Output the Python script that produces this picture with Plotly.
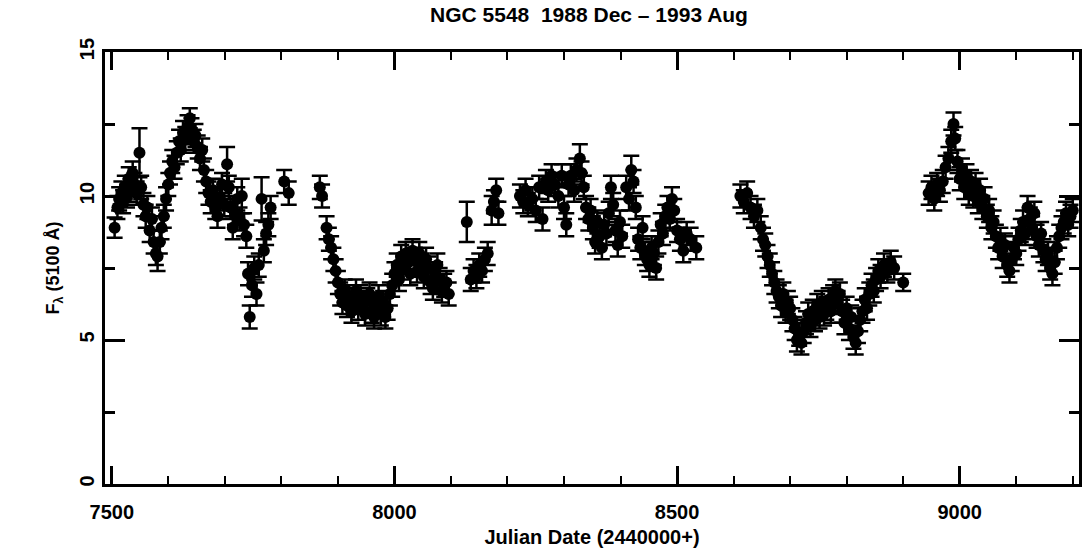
import plotly.graph_objects as go

# NGC 5548 optical continuum light curve, F_lambda(5100 A), 1988 Dec - 1993 Aug
jd = [
    # 1988-89 season
    7505, 7510, 7513, 7517, 7520, 7523, 7527, 7530, 7533, 7537, 7540, 7544, 7549, 7552, 7556,
    7560, 7563, 7567, 7571, 7574, 7578, 7581, 7585, 7588, 7592, 7596, 7600, 7603, 7607, 7611,
    7615, 7619, 7622, 7626, 7630, 7634, 7638, 7641, 7645, 7648, 7652, 7656, 7660, 7663, 7667,
    7671, 7675, 7679, 7683, 7687, 7691, 7695, 7699, 7704, 7707, 7710, 7714, 7718, 7722, 7726,
    7730, 7734, 7738, 7741, 7744, 7748, 7752, 7756, 7760, 7765, 7769, 7773, 7777, 7781, 7805,
    7813,
    # 1989-90 season
    7868, 7872, 7880, 7884, 7888, 7892, 7896, 7900, 7904, 7908, 7912, 7916, 7920, 7924, 7928,
    7932, 7936, 7940, 7944, 7948, 7952, 7956, 7960, 7964, 7968, 7972, 7976, 7980, 7984, 7988,
    7992, 7996, 8000, 8004, 8008, 8012, 8016, 8020, 8024, 8028, 8032, 8036, 8040, 8044, 8048,
    8052, 8056, 8060, 8064, 8068, 8072, 8076, 8080, 8084, 8088, 8092, 8096, 8128, 8135, 8140,
    8145, 8150, 8155, 8160, 8165, 8172, 8176, 8180, 8184,
    # 1990-91 season
    8222, 8228, 8232, 8236, 8244, 8250, 8256, 8262, 8268, 8272, 8278, 8284, 8290, 8296, 8300,
    8304, 8308, 8312, 8318, 8322, 8328, 8331, 8335, 8339, 8343, 8347, 8351, 8355, 8359, 8363,
    8367, 8371, 8375, 8379, 8383, 8387, 8391, 8395, 8399, 8403, 8410, 8415, 8419, 8423, 8427,
    8431, 8435, 8439, 8443, 8447, 8451, 8455, 8459, 8463, 8467, 8471, 8475, 8479, 8483, 8487,
    8491, 8495, 8500, 8505, 8511, 8517, 8524, 8534,
    # 1991-92 season
    8612, 8618, 8624, 8630, 8636, 8642, 8648, 8652, 8656, 8660, 8664, 8668, 8672, 8676, 8680,
    8684, 8688, 8692, 8696, 8700, 8704, 8708, 8712, 8716, 8720, 8724, 8728, 8732, 8736, 8740,
    8744, 8748, 8752, 8756, 8760, 8764, 8768, 8772, 8776, 8780, 8784, 8788, 8792, 8796, 8800,
    8804, 8808, 8812, 8816, 8820, 8824, 8828, 8832, 8836, 8840, 8844, 8848, 8852, 8856, 8860,
    8866, 8872, 8878, 8884, 8900,
    # 1992-93 season
    8945, 8950, 8955, 8960, 8965, 8970, 8975, 8980, 8985, 8989, 8992, 8996, 9000, 9004, 9008,
    9012, 9016, 9020, 9024, 9028, 9032, 9036, 9040, 9044, 9048, 9052, 9056, 9060, 9064, 9068,
    9072, 9076, 9080, 9084, 9088, 9092, 9096, 9100, 9104, 9108, 9112, 9116, 9120, 9124, 9128,
    9132, 9136, 9140, 9144, 9148, 9152, 9156, 9160, 9164, 9168, 9172, 9176, 9180, 9184, 9188,
    9192, 9196, 9200,
]

flux = [
    8.9, 9.6, 9.9, 10.1, 9.8, 10.3, 10.0, 10.6, 10.2, 10.8, 10.4, 10.1, 11.5, 10.3, 9.7,
    9.3, 9.6, 8.8, 9.2, 8.4, 8.0, 7.9, 8.4, 8.9, 9.3, 9.9, 10.4, 10.8, 11.2, 11.0,
    11.5, 11.9, 11.6, 12.2, 12.0, 12.4, 12.7, 12.3, 11.9, 12.1, 11.7, 11.3, 11.6, 10.9, 10.5,
    10.1, 9.8, 10.2, 9.6, 9.3, 9.9, 10.4, 9.7, 11.1, 10.3, 9.6, 8.9, 9.4, 9.9, 9.2,
    10.0, 9.0, 8.6, 7.3, 5.8, 6.9, 7.5, 6.6, 7.6, 9.9, 8.1, 8.7, 9.0, 9.6, 10.5,
    10.1,
    10.3, 10.0, 8.9, 8.5, 8.2, 7.8, 7.4, 7.0, 6.6, 6.3, 6.7, 6.2, 6.5, 6.0, 6.4,
    6.7, 6.1, 6.5, 6.3, 5.9, 6.4, 6.6, 6.0, 5.8, 6.2, 6.5, 5.9, 6.3, 5.8, 6.1,
    6.6, 6.9, 7.3, 7.6, 7.1, 7.9, 7.5, 8.0, 7.7, 7.3, 8.1, 7.8, 7.4, 8.0, 7.6,
    7.2, 7.8, 7.5, 7.0, 6.8, 7.3, 7.6, 7.1, 6.7, 6.9, 7.0, 6.6, 9.1, 7.1, 7.4,
    7.2, 7.6, 7.4, 7.8, 8.0, 9.5, 9.8, 10.2, 9.4,
    10.0, 9.8, 10.2, 9.7, 9.9, 9.5, 10.3, 9.2, 10.5, 10.2, 10.7, 10.4, 10.0, 10.7, 9.6,
    9.0, 10.4, 10.7, 10.2, 10.9, 11.3, 10.8, 10.3, 9.6, 9.2, 9.5, 8.9, 8.4, 9.1, 8.6,
    8.2, 9.0, 8.7, 9.4, 10.3, 9.7, 8.8, 8.3, 9.1, 8.6, 10.3, 9.9, 10.9, 10.5, 9.6,
    8.5, 8.2, 8.9, 8.0, 7.8, 7.6, 8.2, 8.0, 7.5, 8.4, 9.0, 8.7, 9.3, 9.6, 9.2,
    9.9, 9.5, 8.8, 8.5, 8.1, 8.7, 8.5, 8.2,
    10.0, 9.8, 10.1, 9.6, 9.3, 9.5, 8.9, 8.5, 8.3, 7.9, 7.6, 7.3, 7.0, 6.7, 6.5,
    6.2, 6.6, 6.0, 6.3, 6.1, 5.7, 5.4, 5.0, 5.2, 4.9, 5.3, 5.6, 5.9, 5.5, 6.0,
    5.7, 6.2, 5.8, 6.3, 5.9, 6.1, 6.4, 6.0, 6.5, 6.7, 6.3, 6.6, 6.0, 5.6, 6.1,
    5.4, 5.8, 5.1, 4.9, 5.3, 5.7, 6.0, 6.4, 6.1, 6.6, 6.9, 6.7, 7.1, 7.4, 7.2,
    7.6, 7.4, 7.7, 7.5, 7.0,
    10.1, 10.3, 9.9, 10.4, 10.2, 10.5, 11.0, 11.3, 11.9, 12.5, 12.0, 11.2, 10.6, 10.9, 10.3,
    10.7, 10.1, 10.5, 10.0, 10.4, 9.8, 10.2, 9.6, 9.9, 9.3, 9.5, 8.9, 9.1, 8.6, 8.2,
    8.5, 7.9, 8.3, 7.6, 7.4, 7.8, 8.2, 8.0, 8.5, 8.8, 9.1, 8.7, 9.6, 9.2, 8.9,
    9.4, 8.6, 8.3, 8.7, 8.1, 7.8, 8.0, 7.5, 7.3, 7.7, 8.2, 8.6, 8.9, 9.1, 9.4,
    9.0, 9.3, 9.5,
]

flux_err = [
    0.35, 0.4, 0.4, 0.4, 0.4, 0.4, 0.4, 0.4, 0.4, 0.4, 0.4, 0.4, 0.85, 0.4, 0.4,
    0.4, 0.4, 0.4, 0.4, 0.4, 0.4, 0.5, 0.4, 0.4, 0.4, 0.4, 0.4, 0.4, 0.4, 0.4,
    0.4, 0.4, 0.4, 0.4, 0.4, 0.4, 0.35, 0.4, 0.4, 0.4, 0.4, 0.4, 0.4, 0.4, 0.4,
    0.4, 0.4, 0.4, 0.4, 0.4, 0.4, 0.4, 0.4, 0.6, 0.4, 0.4, 0.4, 0.4, 0.4, 0.4,
    0.6, 0.4, 0.4, 0.4, 0.4, 0.4, 0.4, 0.4, 0.4, 0.75, 0.4, 0.4, 0.4, 0.4, 0.4,
    0.4,
    0.4, 0.4, 0.4, 0.4, 0.4, 0.4, 0.4, 0.4, 0.4, 0.4, 0.4, 0.4, 0.4, 0.4, 0.4,
    0.4, 0.4, 0.4, 0.4, 0.4, 0.4, 0.4, 0.4, 0.4, 0.4, 0.4, 0.4, 0.4, 0.4, 0.4,
    0.4, 0.4, 0.4, 0.4, 0.4, 0.4, 0.4, 0.4, 0.4, 0.4, 0.4, 0.4, 0.4, 0.4, 0.4,
    0.4, 0.4, 0.4, 0.4, 0.4, 0.4, 0.4, 0.4, 0.4, 0.4, 0.4, 0.4, 0.7, 0.4, 0.4,
    0.4, 0.4, 0.4, 0.4, 0.4, 0.5, 0.4, 0.4, 0.4,
    0.4, 0.4, 0.4, 0.4, 0.4, 0.4, 0.4, 0.4, 0.4, 0.4, 0.4, 0.4, 0.4, 0.4, 0.4,
    0.4, 0.4, 0.4, 0.4, 0.4, 0.5, 0.4, 0.4, 0.4, 0.4, 0.4, 0.4, 0.4, 0.4, 0.4,
    0.4, 0.4, 0.4, 0.4, 0.4, 0.4, 0.4, 0.4, 0.4, 0.4, 0.4, 0.4, 0.5, 0.4, 0.4,
    0.4, 0.4, 0.4, 0.4, 0.4, 0.4, 0.4, 0.4, 0.4, 0.4, 0.4, 0.4, 0.4, 0.4, 0.4,
    0.4, 0.4, 0.4, 0.4, 0.4, 0.4, 0.4, 0.4,
    0.4, 0.4, 0.4, 0.4, 0.4, 0.4, 0.4, 0.4, 0.4, 0.4, 0.4, 0.4, 0.4, 0.4, 0.4,
    0.4, 0.4, 0.4, 0.4, 0.4, 0.4, 0.4, 0.4, 0.4, 0.4, 0.4, 0.4, 0.4, 0.4, 0.4,
    0.4, 0.4, 0.4, 0.4, 0.4, 0.4, 0.4, 0.4, 0.4, 0.4, 0.4, 0.4, 0.4, 0.4, 0.4,
    0.4, 0.4, 0.4, 0.4, 0.4, 0.4, 0.4, 0.4, 0.4, 0.4, 0.4, 0.4, 0.4, 0.4, 0.4,
    0.4, 0.4, 0.4, 0.4, 0.3,
    0.4, 0.4, 0.4, 0.4, 0.4, 0.4, 0.4, 0.4, 0.4, 0.4, 0.4, 0.4, 0.4, 0.4, 0.4,
    0.4, 0.4, 0.4, 0.4, 0.4, 0.4, 0.4, 0.4, 0.4, 0.4, 0.4, 0.4, 0.4, 0.4, 0.4,
    0.4, 0.4, 0.4, 0.4, 0.4, 0.4, 0.4, 0.4, 0.4, 0.4, 0.4, 0.4, 0.4, 0.4, 0.4,
    0.4, 0.4, 0.4, 0.4, 0.4, 0.4, 0.4, 0.4, 0.4, 0.4, 0.4, 0.4, 0.4, 0.4, 0.4,
    0.4, 0.4, 0.4,
]

x_ticks = [7500, 8000, 8500, 9000]
y_ticks = [0, 5, 10, 15]

FONT = "Liberation Sans, Arial, sans-serif"

fig = go.Figure(
    go.Scatter(
        x=jd,
        y=flux,
        mode="markers",
        marker=dict(symbol="circle", size=12, color="black", line=dict(width=0)),
        error_y=dict(type="data", array=flux_err, visible=True,
                     color="black", thickness=2.5, width=8),
        hoverinfo="x+y",
    )
)

axis_common = dict(
    showgrid=False,
    zeroline=False,
    showline=True,
    linecolor="black",
    linewidth=2.5,
    mirror="allticks",
    ticks="inside",
    tickcolor="black",
    tickwidth=2.5,
    tickfont=dict(family=FONT, size=20, color="black", weight="bold"),
)

fig.update_xaxes(
    **axis_common,
    range=[7488, 9211],
    tickvals=x_ticks,
    ticktext=[str(v) for v in x_ticks],
    ticklen=18,
    ticklabelstandoff=8,
    minor=dict(dtick=100, tick0=7500, ticklen=8, tickwidth=2, tickcolor="black", ticks="inside"),
    title=dict(text="Julian Date (2440000+)",
               font=dict(family=FONT, size=20, color="black", weight="bold"),
               standoff=9),
)

fig.update_yaxes(
    **axis_common,
    range=[0, 15],
    tickvals=y_ticks,
    ticktext=[str(v) for v in y_ticks],
    tickangle=-90,
    ticklen=20,
    ticklabelstandoff=0,
    minor=dict(dtick=2.5, tick0=0, ticklen=10, tickwidth=2.5, tickcolor="black", ticks="inside"),
    title=dict(text="F<sub>λ</sub> (5100 Å)",
               font=dict(family=FONT, size=18, color="black", weight="bold"),
               standoff=12),
)

fig.update_layout(
    width=1082,
    height=555,
    margin=dict(l=105, r=0, t=52, b=71),
    paper_bgcolor="white",
    plot_bgcolor="white",
    showlegend=False,
    title=dict(text="NGC 5548  1988 Dec – 1993 Aug",
               font=dict(family=FONT, size=21, color="black", weight="bold"),
               x=589 / 1082, xanchor="center", y=1 - 15 / 555, yanchor="middle",
               xref="container", yref="container"),
)

fig.write_html("out.html")
